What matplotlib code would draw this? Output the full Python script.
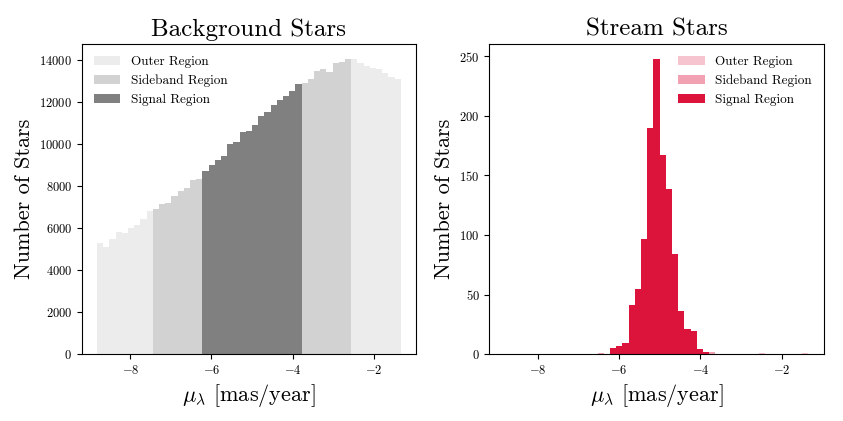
import numpy as np
import matplotlib
matplotlib.use("Agg")
import matplotlib.pyplot as plt

plt.rcParams['font.family'] = 'serif'
plt.rcParams['font.serif'] = ['cmr10', 'DejaVu Serif']
plt.rcParams['mathtext.fontset'] = 'cm'
plt.rcParams['axes.formatter.use_mathtext'] = True
plt.rcParams['axes.unicode_minus'] = True

# bin edges of proper motion mu_lambda [mas/year]
bin_edges = np.linspace(-8.82, -1.34, 50)

# region boundaries (bin index ranges)
outer_lo = (0, 9)
side_lo = (9, 17)
signal = (17, 33)
side_hi = (33, 41)
outer_hi = (41, 49)

background_counts = [
    5312, 5122, 5489, 5807, 5760, 5998, 6125, 6443, 6793,
    6905, 7143, 7175, 7541, 7748, 7907, 8273, 8337,
    8703, 9021, 9260, 9451, 10023, 10103, 10564, 10612, 10930,
    11360, 11535, 11853, 12108, 12283, 12553, 12840,
    12903, 13110, 13475, 13555, 13444, 13857, 13905, 14065,
    14065, 13842, 13730, 13634, 13587, 13396, 13205, 13078,
]

stream_counts = [
    0, 0, 0, 0, 0, 0, 0, 0, 0,
    0, 0, 0, 0, 0, 0, 1, 0,
    5, 7, 9, 41, 55, 97, 190, 248, 167,
    139, 84, 36, 21, 19, 4, 2,
    2, 0, 0, 0, 0, 0, 0, 0,
    1, 0, 0, 0, 0, 0, 0, 1,
]

fig, axes = plt.subplots(1, 2, figsize=(8.43, 4.21), dpi=100)
fig.subplots_adjust(left=0.097, right=0.977, bottom=0.159, top=0.8955, wspace=0.22)

centers = 0.5 * (bin_edges[:-1] + bin_edges[1:])


def draw(ax, counts, color, alphas, legend_loc):
    counts = np.asarray(counts, dtype=float)
    groups = [
        ("Outer Region", [outer_lo, outer_hi], alphas[0]),
        ("Sideband Region", [side_lo, side_hi], alphas[1]),
        ("Signal Region", [signal], alphas[2]),
    ]
    for label, ranges, a in groups:
        mask = np.zeros(len(counts), dtype=bool)
        for lo, hi in ranges:
            mask[lo:hi] = True
        ax.hist(centers[mask], bins=bin_edges, weights=counts[mask],
                color=color, alpha=a, label=label)
    ax.legend(loc=legend_loc, frameon=False, fontsize=9.5)
    ax.set_xlabel(r"$\mu_\lambda$ [mas/year]", fontsize=16)
    ax.set_ylabel("Number of Stars", fontsize=16)
    ax.tick_params(labelsize=9)


draw(axes[0], background_counts, 'gray', (0.15, 0.35, 1.0), 'upper left')
axes[0].set_title("Background Stars", fontsize=18)
axes[0].set_yticks(np.arange(0, 14001, 2000))

draw(axes[1], stream_counts, 'crimson', (0.25, 0.4, 1.0), 'upper right')
axes[1].set_title("Stream Stars", fontsize=18)

for ax in axes:
    ax.set_xticks([-8, -6, -4, -2])

fig.savefig("out.png", dpi=100)
